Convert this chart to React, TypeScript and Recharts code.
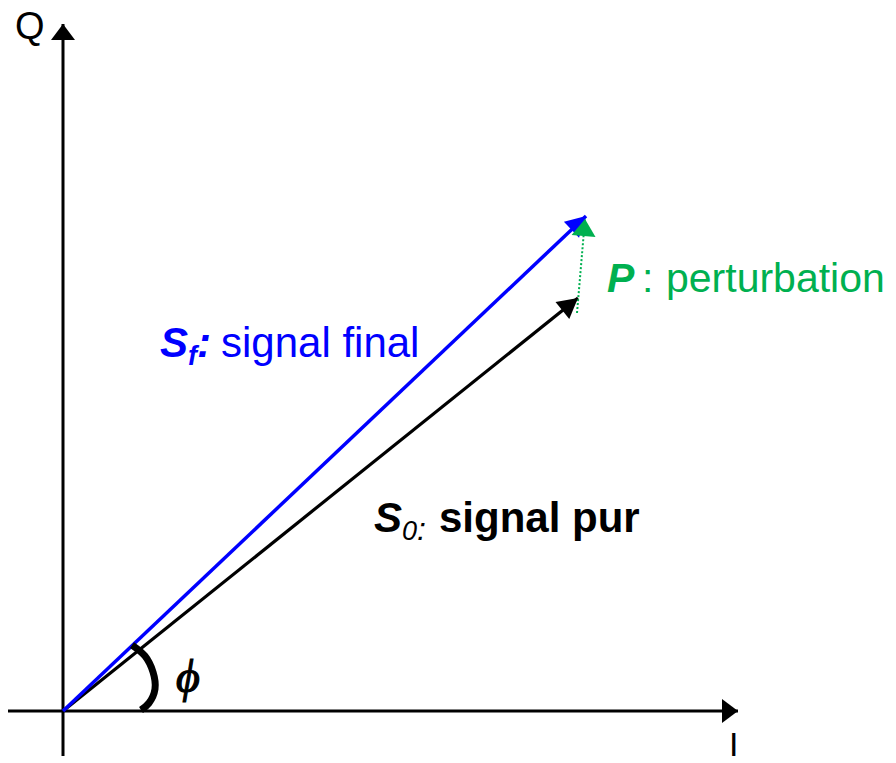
import React from 'react';
import { ComposedChart, Line, XAxis, YAxis } from 'recharts';

// vectors, in pixel-sized units from the origin (y up)
const axisI = [{ x: -55, y: 0 }, { x: 675, y: 0 }];
const axisQ = [{ x: 0, y: -45 }, { x: 0, y: 687 }];
const signalPur = [{ x: 0, y: 0 }, { x: 515, y: 413 }];
const signalFinal = [{ x: 0, y: 0 }, { x: 523, y: 495 }];
const perturbation = [{ x: 514, y: 398 }, { x: 522, y: 492 }];
const phiArc = [
  { x: 69, y: 66 },
  { x: 82, y: 55 },
  { x: 90, y: 39 },
  { x: 92, y: 22 },
  { x: 86, y: 8 },
  { x: 78, y: 1 }
];

const FONT = '"Liberation Sans", Arial, sans-serif';
const BLUE = '#0000ff';
const GREEN = '#00b050';

// arrow head drawn at the last point of a segment
const arrowHead = (pts: { x: number; y: number }[], color: string, len: number, hw: number) =>
  (props: any) => {
    const { cx, cy, index } = props;
    if (index !== pts.length - 1 || cx == null) return <g key={`d-${index}`} />;
    const a = pts[index - 1];
    const b = pts[index];
    const dx = b.x - a.x;
    const dy = -(b.y - a.y);
    const n = Math.hypot(dx, dy);
    const ux = dx / n;
    const uy = dy / n;
    const bx = cx - ux * len;
    const by = cy - uy * len;
    const p = `${cx},${cy} ${bx - uy * hw},${by + ux * hw} ${bx + uy * hw},${by - ux * hw}`;
    return <polygon key={`d-${index}`} points={p} fill={color} />;
  };

const App: React.FC = () => {
  return (
    <div style={{ position: 'absolute', left: 0, top: 0, width: 896, height: 763, background: '#fff' }}>
      <ComposedChart width={896} height={763} margin={{ top: 0, right: 0, bottom: 0, left: 0 }}>
        <XAxis dataKey="x" type="number" domain={[-63, 833]} hide />
        <YAxis type="number" domain={[-52, 711]} hide />
        <Line data={axisI} dataKey="y" type="linear" stroke="#000" strokeWidth={3}
          dot={arrowHead(axisI, '#000', 16, 12)} activeDot={false} isAnimationActive={false} />
        <Line data={axisQ} dataKey="y" type="linear" stroke="#000" strokeWidth={3}
          dot={arrowHead(axisQ, '#000', 16, 12)} activeDot={false} isAnimationActive={false} />
        <Line data={signalPur} dataKey="y" type="linear" stroke="#000" strokeWidth={3.2}
          dot={arrowHead(signalPur, '#000', 20, 11)} activeDot={false} isAnimationActive={false} />
        <Line data={signalFinal} dataKey="y" type="linear" stroke={BLUE} strokeWidth={3.5}
          dot={arrowHead(signalFinal, BLUE, 20, 11)} activeDot={false} isAnimationActive={false} />
        <Line data={perturbation} dataKey="y" type="linear" stroke={GREEN} strokeWidth={2}
          strokeDasharray="2 2" dot={arrowHead(perturbation, GREEN, 17, 12)} activeDot={false}
          isAnimationActive={false} />
        <Line data={phiArc} dataKey="y" type="natural" stroke="#000" strokeWidth={7}
          dot={false} activeDot={false} isAnimationActive={false} />

        <text x={15} y={39} fontFamily={FONT} fontSize={38} fill="#000">Q</text>
        <text x={729} y={756} fontFamily={FONT} fontSize={34} fill="#000">I</text>
        <text x={176} y={692} fontFamily='"Liberation Serif", serif' fontStyle="italic" fontSize={46}
          fill="#000" stroke="#000" strokeWidth={1.2}>ϕ</text>

        <text x={160} y={357} fontFamily={FONT} fontSize={42} fill={BLUE}>
          <tspan fontWeight="bold" fontStyle="italic">S</tspan>
          <tspan fontWeight="bold" fontStyle="italic" fontSize={27} dy={8}>f</tspan>
          <tspan fontWeight="bold" fontStyle="italic" dy={-8}>:</tspan>
          <tspan x={221}>signal final</tspan>
        </text>

        <text x={374} y={532} fontFamily={FONT} fontSize={42} fill="#000">
          <tspan fontWeight="bold" fontStyle="italic">S</tspan>
          <tspan fontStyle="italic" fontSize={27} dy={8}>0</tspan>
          <tspan fontStyle="italic" fontSize={32} x={417}>:</tspan>
          <tspan fontWeight="bold" dy={-8} x={439}>signal pur</tspan>
        </text>

        <text x={607} y={292} fontFamily={FONT} fontSize={41} fill={GREEN}>
          <tspan fontWeight="bold" fontStyle="italic">P</tspan>
          <tspan x={642}>:</tspan>
          <tspan x={666}>perturbation</tspan>
        </text>
      </ComposedChart>
    </div>
  );
};

export default App;
